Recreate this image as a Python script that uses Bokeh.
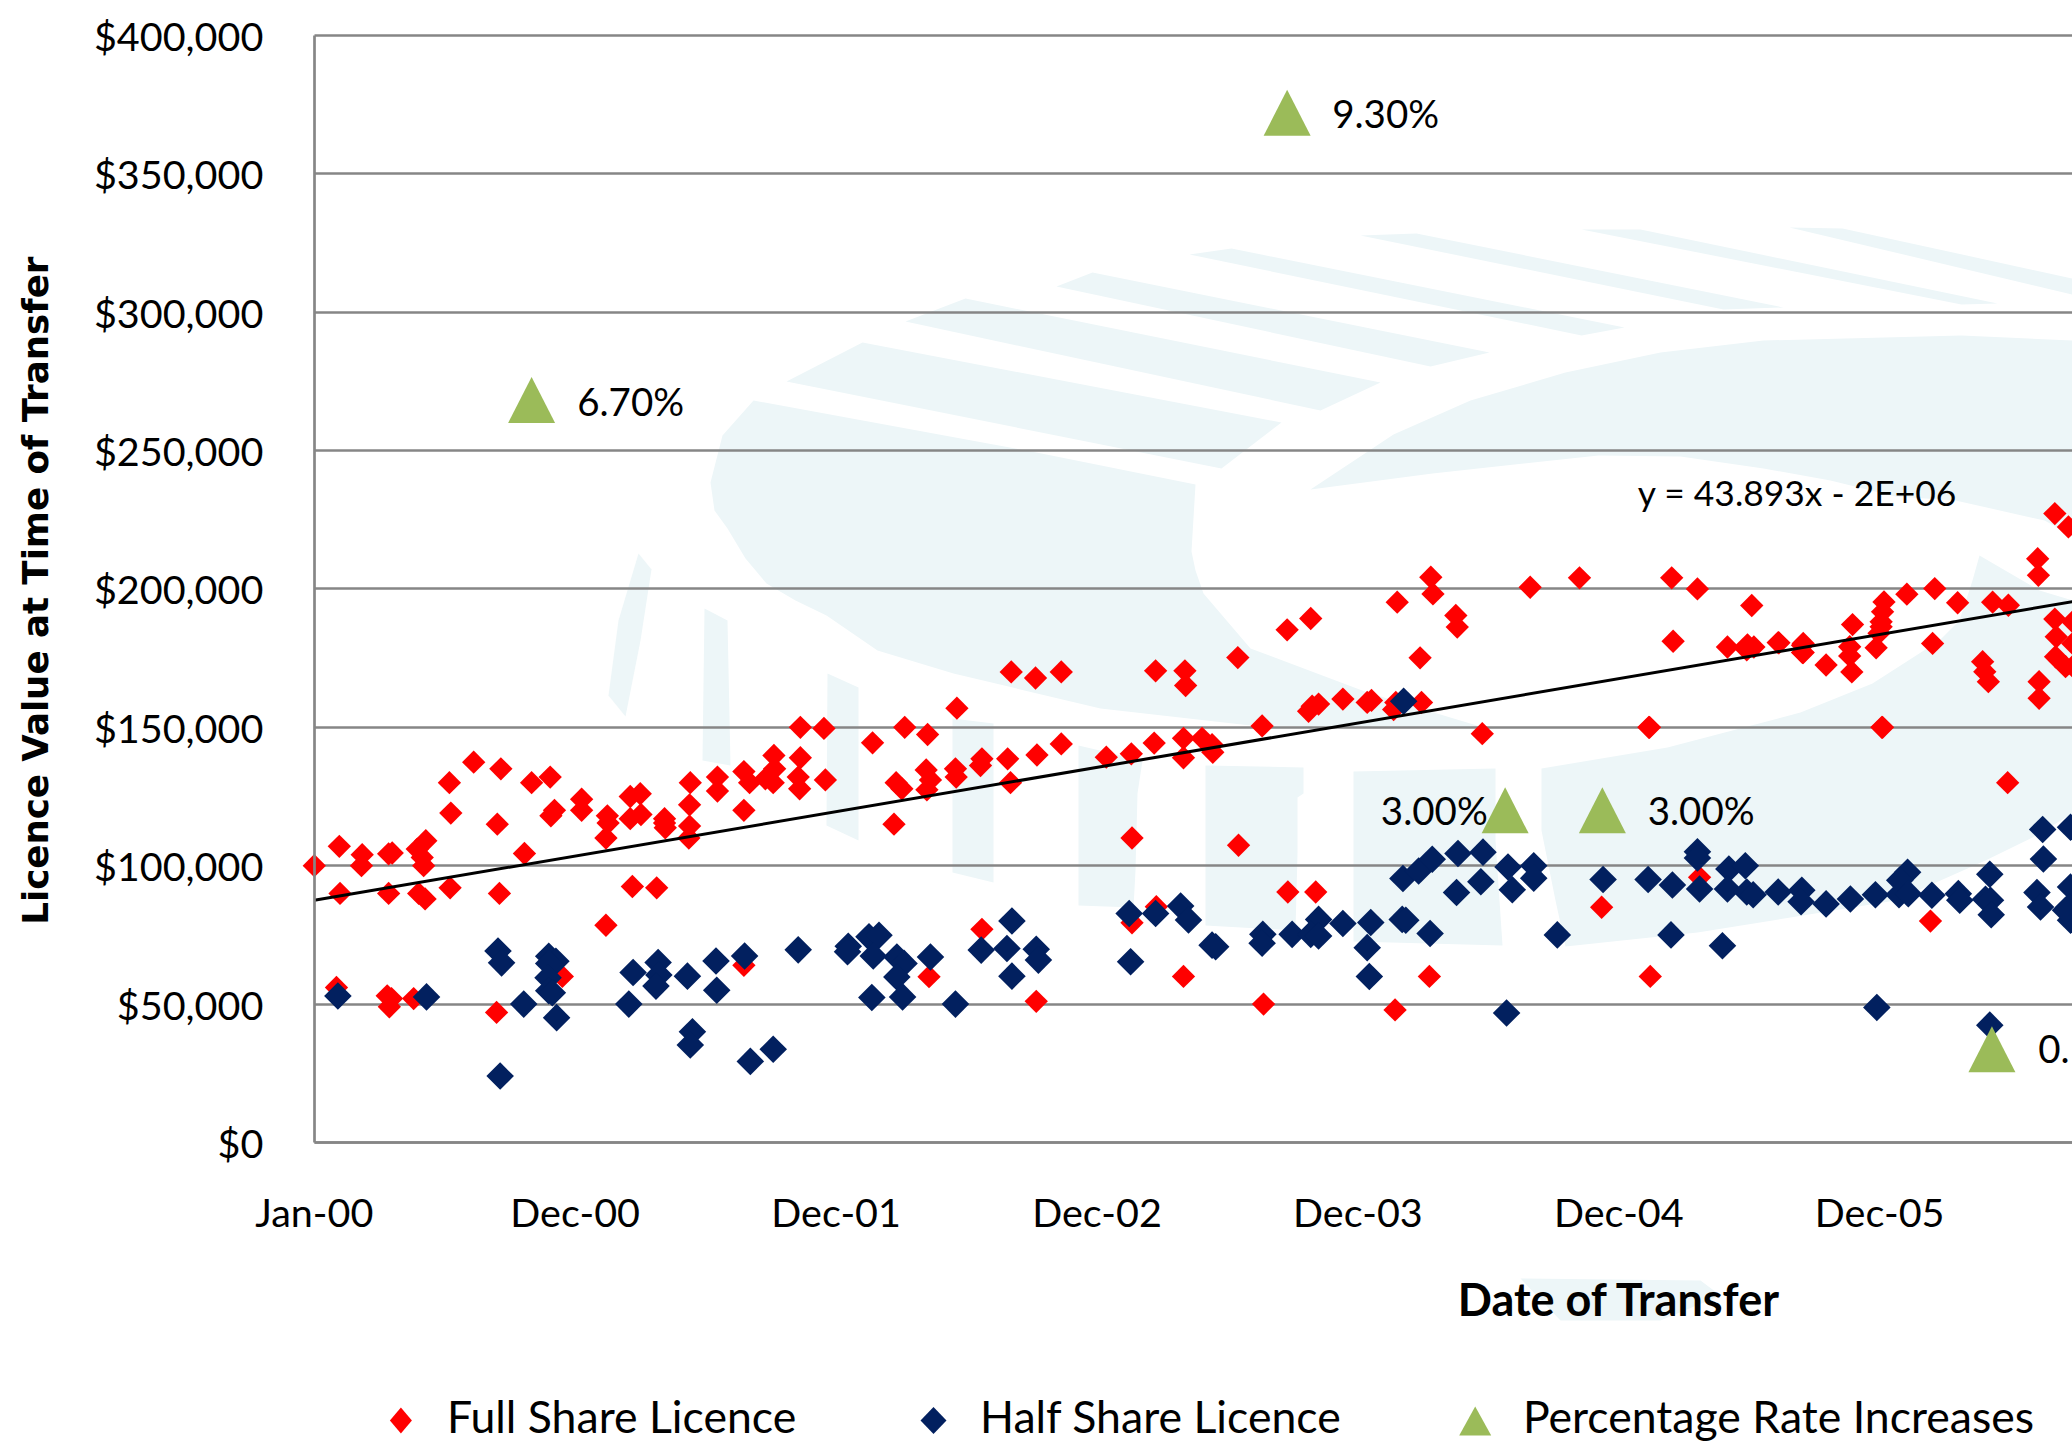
import math
from bokeh.plotting import figure
from bokeh.embed import file_html
from bokeh.resources import INLINE
from bokeh.models import (Range1d, FixedTicker, NumeralTickFormatter, Label)

# ---- chart values -------------------------------------------------------
EXCEL_JAN_00 = 36526  # Excel serial for 1 Jan 2000; x axis is in Excel serial days

x_tick_days = [0, 365, 730, 1095, 1460, 1825, 2190]
x_tick_labels = ["Jan-00", "Dec-00", "Dec-01", "Dec-02", "Dec-03", "Dec-04", "Dec-05"]
y_ticks = [0, 50000, 100000, 150000, 200000, 250000, 300000, 350000, 400000]

full_day = [0, 35, 36, 67, 66, 104, 109, 104, 144, 156, 151, 153, 146, 155, 190, 189, 191, 223, 261, 256, 259, 294,
            304, 330, 336, 331, 374, 374, 410, 411, 408, 445, 479, 408, 442, 456, 442, 457, 490, 490, 491,
            526, 525, 525, 524, 31, 102, 108, 105, 139, 255, 347,
            564, 564, 601, 609, 601, 643, 644, 631, 642, 680, 713, 680, 677, 679, 715, 781, 826, 858, 814, 822, 811,
            856, 862, 857, 897, 898, 934, 932, 970, 974, 899, 975, 1009, 1045, 1011, 1045, 934, 601, 860, 1010,
            1108, 1143, 1175, 1216, 1216, 1242, 1256, 1257, 1177, 1218, 1219, 1292, 1326, 1361, 1394, 1391, 1396, 1405,
            1439, 1473, 1479, 1515, 1510, 1513, 1549, 1562, 1565, 1547, 1597, 1599, 1634, 1144, 1293, 1362, 1401, 1178,
            1144, 1216, 1560, 1328, 1512, 1801, 1869, 1938, 2261, 1867, 2193, 2369,
            1701, 1770, 1899, 1935, 2011, 1901, 1977, 2005, 2014, 2004, 2049, 2082, 2082, 1868,
            2048, 2083, 2083, 2115, 2152, 2148, 2148, 2151, 2185, 2196, 2194, 2192, 2192, 2189, 2228, 2267, 2299, 2264,
            2348, 2370, 2334, 2337, 2342, 2411, 2412, 2435, 2454, 2435, 2437, 2460, 2436, 2450, 2460, 2460, 2413, 2413,
            2194]
full_value = [100000, 107000, 90000, 104000, 100000, 104300, 104600, 90000, 106000, 109000, 103000, 100000, 90000, 88000,
              92000, 130000, 119000, 137400, 135000, 115000, 90000, 104400,
              130000, 132000, 120000, 118000, 124000, 120000, 118000, 115400, 110000, 92500, 92000, 78500, 125000, 126000,
              117000, 118500, 117000, 115400, 113700,
              130000, 122000, 114300, 110000, 56000, 53000, 52000, 49000, 52000, 47000, 60000,
              132000, 127000, 134000, 130000, 120000, 139800, 135000, 131400, 130000, 150000, 149600, 139000, 132000, 127800,
              131000, 144400, 150000, 147400, 130000, 127800, 115000,
              134600, 131000, 127400, 135000, 132000, 138600, 136200, 138600, 130000, 156900, 170000, 167800, 170000, 140000,
              144000, 77000, 64000, 59900, 51000,
              139200, 140400, 144300, 146000, 139000, 146000, 143700, 141000, 170400, 170400, 165100, 175200, 150500, 185200,
              189300, 155800, 157600, 158400,
              160200, 159000, 159700, 195200, 156400, 159000, 159000, 204200, 198200, 175100, 190400, 186200, 147700, 110000,
              107400, 90500, 90500, 85200,
              79400, 60000, 60000, 50000, 47900, 85000, 60000, 95800, 80000, 150000, 150000, 130000,
              200600, 204000, 204000, 200000, 194000, 181100, 179000, 179800, 179000, 178000, 180500, 179600, 177000, 150000,
              180600, 180300, 177000, 172500, 187100, 179100, 175800, 170000, 178700, 195300, 191700, 188100, 186300, 184000,
              198100, 200100, 195000, 180300,
              195200, 194100, 173700, 170100, 166500, 210900, 204900, 227200, 222400, 189100, 182700, 188100, 175500, 171900,
              180300, 172000, 166500, 160500,
              150000]

half_day = [33, 157, 257, 262, 293, 328, 338, 328, 327, 328, 333, 339, 260, 440, 446, 481, 482, 478, 522, 529, 526,
            562, 563, 602, 677, 747, 746, 780, 776, 790, 782, 815, 825, 815, 823, 862, 897, 933, 969, 976, 976, 1010, 1013,
            610, 642,
            1140, 1177, 1212, 1223, 1256, 1261, 1142, 1327, 1326, 1368, 1405, 1394, 1405, 1439, 1478, 1473, 1476, 1522, 1527,
            1561, 1524, 1523, 1545, 1564, 1600, 1635, 1598, 1632,
            1670, 1676, 1706, 1706, 1739, 1668, 1803, 1866, 1900, 1935, 1935, 1938, 1898, 1970, 1979, 2002, 1977, 2004, 2013,
            2048, 2081, 2080, 2115, 2149, 2184, 2229, 2218, 2217, 2230, 2263, 2300, 2302, 2344, 2338, 2345, 2346,
            2418, 2419, 2410, 2415, 2457, 2457, 2455, 2457, 2450, 2186, 2344]
half_value = [52900, 52600, 69200, 64900, 50000, 67300, 65500, 64700, 59500, 54800, 54100, 45100, 24000, 50000, 61400, 65000,
              60500, 56500, 60100, 40000, 35200,
              65600, 55000, 67400, 69600, 70900, 68900, 52400, 74300, 74900, 67400, 67000, 64700, 59800, 52600, 67000, 50000,
              69500, 70100, 80000, 60100, 69800, 65900,
              29300, 33700,
              82700, 82700, 85400, 80400, 71300, 70700, 65300, 75200, 72000, 75200, 80600, 75200, 74600, 79100, 79500, 70400,
              60000, 80600, 80300,
              75500, 159400, 95400, 98100, 102300, 104400, 104900, 90300, 94200,
              99500, 91300, 100000, 95500, 75000, 46800, 95000, 95000, 93000, 105000, 102800, 91600, 75000, 71100, 98800, 100000,
              91600, 90500, 89500,
              90500, 91100, 87000, 86200, 88000, 89500, 97600, 94700, 89500, 89900, 89300, 89900, 87500, 96900, 87900, 87500, 82300,
              113100, 102400, 90300, 85100, 113900, 92300, 85100, 80300, 83900, 48800, 42400]

rate_day = [304, 1361, 1666, 1802, 2347]
rate_value = [268200, 372000, 120000, 120000, 33700]
rate_labels = ["6.70%", "9.30%", "3.00%", "3.00%", "0."]

trend_day = [0, 2460]
trend_value = [87500, 195400]
trend_label = "y = 43.893x - 2E+06"

y_title = "Licence Value  at Time of Transfer"
x_title = "Date of Transfer"
legend_labels = ["Full Share Licence", "Half Share Licence", "Percentage Rate Increases"]

# pale logo behind the plot (page pixels of the picture)
watermark = [
    [(1789, 227), (1842, 228), (2072, 278), (2072, 294)],
    [(1581, 229), (1640, 229), (1997, 303), (1961, 304)],
    [(1360, 235), (1416, 233), (1783, 307), (1723, 309)],
    [(1189, 254), (1231, 248), (1624, 327), (1581, 335)],
    [(1056, 286), (1092, 272), (1489, 352), (1430, 366)],
    [(905, 321), (965, 298), (1380, 382), (1320, 410)],
    [(786, 381), (862, 342), (1281, 422), (1221, 468)],
    [(753, 400), (1036, 452), (1195, 484), (1191, 551), (1195, 570), (1203, 593), (1250, 648), (1367, 692), (1483, 727),
     (1250, 725), (1100, 708), (953, 673), (877, 650), (826, 615), (795, 600), (766, 583), (745, 558), (727, 528),
     (714, 510), (710, 482), (722, 435)],
    [(1310, 489), (1393, 434), (1470, 400), (1565, 372), (1660, 352), (1763, 340), (1961, 335), (2072, 340), (2072, 535),
     (2044, 520), (1955, 500), (1895, 496), (1830, 480), (1763, 468), (1680, 456), (1598, 455), (1432, 473)],
    [(1541, 768), (1667, 747), (1800, 712), (1872, 683), (1939, 640), (1959, 620), (1972, 580), (1979, 555), (2039, 590),
     (2072, 600), (2072, 813), (2032, 837), (1985, 860), (1895, 900), (1772, 920), (1697, 932), (1565, 946), (1555, 900),
     (1541, 830)],
    [(638, 553), (651, 569), (640, 640), (625, 716), (608, 695), (618, 620)],
    [(704, 608), (727, 620), (730, 765), (702, 760)],
    [(827, 673), (858, 687), (858, 840), (826, 825)],
    [(952, 718), (993, 723), (993, 882), (952, 872)],
    [(1078, 745), (1142, 760), (1137, 793), (1135, 870), (1133, 907), (1078, 905)],
    [(1205, 765), (1303, 767), (1303, 793), (1297, 797), (1297, 853), (1295, 930), (1205, 925)],
    [(1353, 771), (1495, 768), (1495, 840), (1502, 945), (1353, 941)],
    [(1520, 1278), (1700, 1280), (1720, 1295), (1660, 1320), (1560, 1320)],
]

# ---- page geometry ------------------------------------------------------
W, H = 2072, 1443
AXIS_PX, ZERO_PX = 313.8, 1142.0
PX_TO_DAY, PX_TO_USD = 1.399, 361.27


def X(px):
    return EXCEL_JAN_00 + (px - AXIS_PX) * PX_TO_DAY


def Y(py):
    return (ZERO_PX - py) * PX_TO_USD


FONT = "Lato"
GRID = "#868686"
RED, NAVY, GREEN = "#ff0000", "#02205f", "#9bbb59"

p = figure(width=W, height=H, output_backend="svg", toolbar_location=None,
           x_range=Range1d(X(0), X(W)), y_range=Range1d(Y(H), Y(0)),
           min_border=0, outline_line_color=None)

# watermark
p.patches([[X(a) for a, _ in poly] for poly in watermark], [[Y(b) for _, b in poly] for poly in watermark],
          fill_color="#edf6f8", line_color=None, level="image")

# axes
xs_ticks = [EXCEL_JAN_00 + d for d in x_tick_days]
xa, ya = p.xaxis[0], p.yaxis[0]
xa.ticker = FixedTicker(ticks=xs_ticks)
xa.major_label_overrides = {t: s for t, s in zip(xs_ticks, x_tick_labels)}
xa.bounds = (EXCEL_JAN_00, X(W))
xa.fixed_location = 0
ya.ticker = FixedTicker(ticks=y_ticks)
ya.formatter = NumeralTickFormatter(format="$0,0")
ya.bounds = (0, 400000)
ya.fixed_location = EXCEL_JAN_00
for a in (xa, ya):
    a.axis_line_color = GRID
    a.axis_line_width = 2.7
    a.major_tick_line_color = None
    a.minor_tick_line_color = None
    a.major_label_text_font = FONT
    a.major_label_text_font_size = "39.5px"
    a.major_label_text_color = "black"
xa.major_label_standoff = 39
ya.major_label_standoff = 45

p.xgrid.visible = False
p.ygrid.ticker = FixedTicker(ticks=y_ticks)
p.ygrid.grid_line_color = GRID
p.ygrid.grid_line_width = 2.7
p.ygrid.cross_bounds = (EXCEL_JAN_00, X(W))

# series
p.scatter([EXCEL_JAN_00 + d for d in full_day], full_value, marker="square", angle=math.pi / 4, size=16.5,
          fill_color=RED, line_color=None)
p.scatter([EXCEL_JAN_00 + d for d in half_day], half_value, marker="square", angle=math.pi / 4, size=19.5,
          fill_color=NAVY, line_color=None)

tw = 23.5 * PX_TO_DAY
th = 23 * PX_TO_USD
rx = [EXCEL_JAN_00 + d for d in rate_day]
p.patches([[x - tw, x, x + tw] for x in rx], [[v - th, v + th, v - th] for v in rate_value],
          fill_color=GREEN, line_color=None)

p.line([EXCEL_JAN_00 + d for d in trend_day], trend_value, line_color="black", line_width=3)


def txt(s, px, py, size, align="left", style="normal", font=FONT, angle=0):
    p.add_layout(Label(x=X(px), y=Y(py), text=s, text_font=font, text_font_size=size, text_color="black",
                       text_align=align, text_baseline="middle", text_font_style=style, angle=angle))


for s, px, py in zip(rate_labels, [576.7, 1331.7, 1380.3, 1647.2, 2037.7], [400.5, 112.5, 809.5, 809.5, 1048]):
    txt(s, px, py, "38.5px")
txt(trend_label, 1637.3, 492, "35.4px")
txt(x_title, 1619, 1298, "45px", align="center", style="bold")
txt(y_title, 35, 584, "35.6px", align="center", style="bold", font="DejaVu Sans", angle=math.pi / 2)

# legend row
LEG_Y = 1415
for s, px in zip(legend_labels, [446.4, 979.5, 1522.4]):
    txt(s, px, LEG_Y, "44.6px")
leg_keys = [([400.4 - 11, 400.4, 400.4 + 11, 400.4], [1420, 1407, 1420, 1433], RED),
            ([933 - 13, 933, 933 + 13, 933], [1420, 1406.5, 1420, 1433.5], NAVY),
            ([1458.7, 1474.7, 1490.7], [1435, 1406, 1435], GREEN)]
p.patches([[X(a) for a in k[0]] for k in leg_keys], [[Y(b) for b in k[1]] for k in leg_keys],
          fill_color=[k[2] for k in leg_keys], line_color=None)

open("out.html", "w").write(file_html(p, INLINE))
